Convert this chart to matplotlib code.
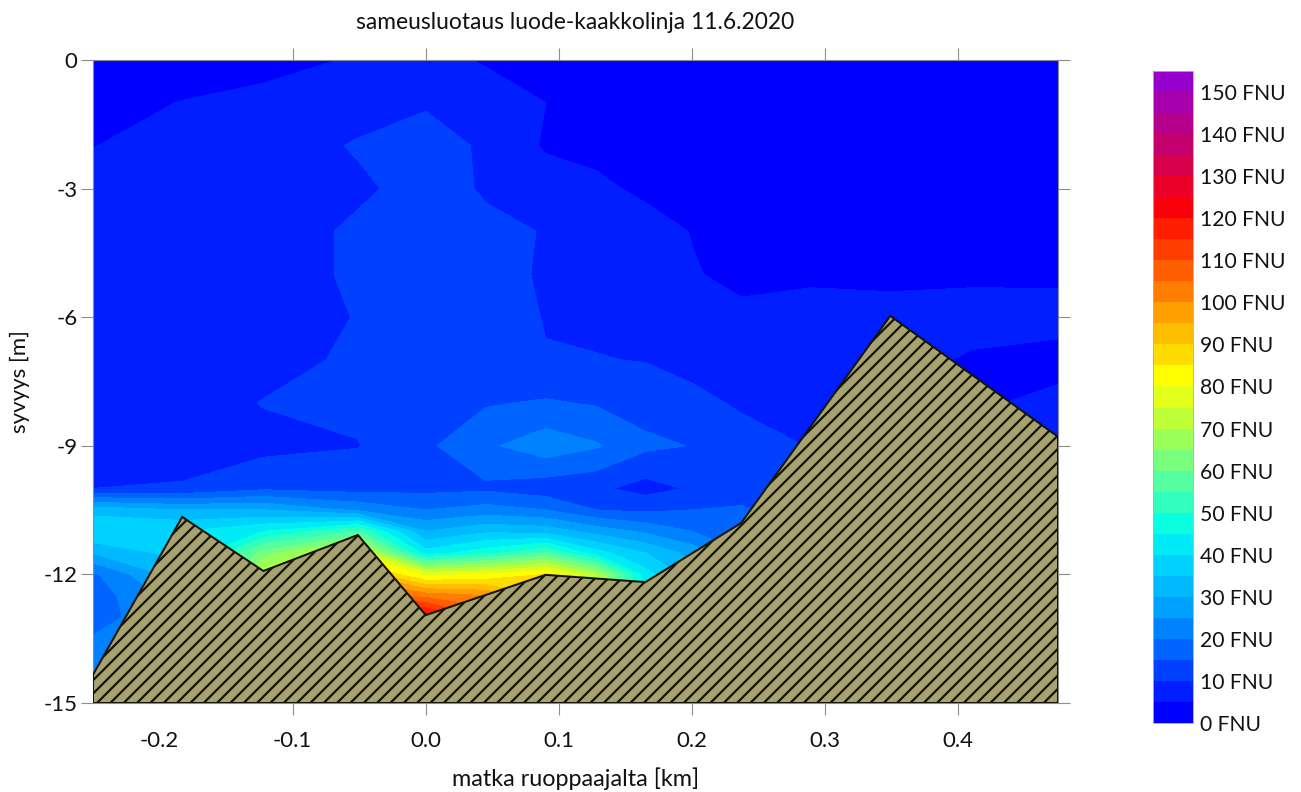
import numpy as np
import matplotlib
matplotlib.use("Agg")
import matplotlib.pyplot as plt

# ---- data -------------------------------------------------------------
# distance of each sounding station from the dredger [km]
station_x = [-0.25, -0.183, -0.122, -0.051, 0.0, 0.045, 0.09, 0.128,
             0.165, 0.2, 0.237, 0.29, 0.349, 0.41, 0.475]

# sounding depths [m]
depths = [0, -1, -2, -3, -4, -5, -6, -7, -8, -9, -10, -10.5, -11, -11.5,
          -12, -12.5, -13, -14, -15]

# turbidity [FNU], one row per depth, one value per station
turb_0 = [2.5, 3, 3.8, 5.3, 6, 4.7, 3.5, 3, 3, 3, 3, 3, 3, 3, 3]
turb_1 = [3.8, 5.1, 6, 7.5, 9.5, 6.5, 5.0, 3.5, 3, 3, 3, 3, 3, 3, 3]
turb_2 = [4.9, 6.5, 7, 10.5, 12, 9.3, 4.4, 4.3, 3.5, 3, 3, 3, 3, 3, 3]
turb_3 = [6, 7, 7, 9, 12, 9.5, 7.5, 5.5, 4.5, 3.5, 3, 3, 3, 3, 3]
turb_4 = [6.5, 7, 7, 11, 12.5, 11, 9.8, 7, 6, 4.9, 3.5, 3.2, 3.3, 3.3, 3.2]
turb_5 = [7, 7, 7, 11, 12.5, 11.5, 9.5, 8, 7.5, 5.2, 4.3, 4.3, 4.3, 4.3, 4]
turb_6 = [7, 7, 7.5, 10.2, 12.5, 12, 9.8, 9, 8.5, 7, 5.6, 6.5, 6, 6.5, 7]
turb_7 = [7, 7.2, 8, 11, 12.5, 12.5, 10.2, 10.2, 9.8, 8.8, 8, 8, 6.5, 4.5, 3]
turb_8 = [7.5, 7.5, 10.2, 11, 13, 14.5, 15.5, 14.5, 13, 11, 9.5, 9, 7, 4, 6.5]
turb_9 = [8.5, 8.5, 8.5, 9.8, 14, 19, 23, 20.5, 16, 14.8, 11.5, 9.8, 8, 5, 7]
turb_10 = [10, 10.3, 14, 13, 13.5, 14, 12, 11, 8, 10.5, 13, 11, 9, 6, 7]
turb_10_5 = [33, 30, 30, 24, 20, 22, 20, 15, 14, 15, 15.5, 12, 9.5, 6, 7]
turb_11 = [40, 40, 45, 55, 30, 34, 33, 28, 24, 20, 18, 14, 10, 6, 7]
turb_11_5 = [30, 37, 62, 78, 42, 48, 55, 42, 35, 28, 20, 15, 10, 6, 7]
turb_12 = [19, 33, 73, 95, 78, 80, 85, 70, 42, 32, 22, 15, 10, 6, 7]
turb_12_5 = [17, 28, 75, 110, 103, 100, 90, 75, 45, 33, 22, 15, 10, 6, 7]
turb_13 = [17, 26, 75, 124, 124, 110, 90, 75, 45, 33, 22, 15, 10, 6, 7]
turb_14 = [24, 25, 75, 124, 124, 110, 90, 75, 45, 33, 22, 15, 10, 6, 7]
turb_15 = [28, 25, 75, 124, 124, 110, 90, 75, 45, 33, 22, 15, 10, 6, 7]

# sea bed profile along the line
bed_x = [-0.25, -0.183, -0.122, -0.051, 0.0, 0.09, 0.165, 0.237, 0.349, 0.475]
bed_depth = [-14.34, -10.66, -11.92, -11.08, -12.95, -12.01, -12.18, -10.8,
             -5.97, -8.79]

# colour classes [FNU]
levels = list(range(0, 160, 5))
cbar_ticks = list(range(0, 160, 10))
x_ticks = [-0.2, -0.1, 0.0, 0.1, 0.2, 0.3, 0.4]
y_ticks = [0, -3, -6, -9, -12, -15]

# ---- style ------------------------------------------------------------
band_rgb = [
    (0, 0, 255), (0, 30, 255), (0, 65, 255), (0, 100, 255), (0, 130, 255),
    (0, 160, 255), (0, 185, 255), (0, 210, 255), (0, 235, 245),
    (10, 255, 225), (50, 255, 190), (85, 255, 160), (120, 255, 125),
    (155, 255, 90), (190, 255, 55), (225, 255, 25), (255, 255, 0),
    (255, 220, 0), (255, 190, 0), (255, 160, 0), (255, 125, 0),
    (255, 95, 0), (255, 60, 0), (255, 30, 0), (250, 0, 10), (235, 0, 40),
    (215, 0, 75), (195, 0, 110), (180, 0, 140), (165, 0, 170),
    (150, 0, 205),
]
band_colors = [tuple(c / 255 for c in rgb) for rgb in band_rgb]

DPI = 80
plt.rcParams["font.family"] = ["Lato", "DejaVu Sans"]
plt.rcParams["hatch.linewidth"] = 2.0

fig = plt.figure(figsize=(1301 / DPI, 792 / DPI), dpi=DPI)
ax = fig.add_axes([93 / 1301, 1 - 703 / 792, (1058 - 93) / 1301, 643 / 792])

Z = np.array([turb_0, turb_1, turb_2, turb_3, turb_4, turb_5, turb_6,
              turb_7, turb_8, turb_9, turb_10, turb_10_5, turb_11,
              turb_11_5, turb_12, turb_12_5, turb_13, turb_14, turb_15])
X, Y = np.meshgrid(station_x, depths)

cf = ax.contourf(X, Y, Z, levels=levels, colors=band_colors)
cf.set_edgecolor("face")
cf.set_linewidth(0.4)

# sea bed
poly_x = bed_x + [bed_x[-1], bed_x[0]]
poly_y = bed_depth + [-15, -15]
ax.fill(poly_x, poly_y, facecolor="#a8a270", edgecolor="#141408",
        hatch="//", linewidth=1.8, zorder=3)

ax.set_xlim(-0.25, 0.475)
ax.set_ylim(-15, 0)

ax.set_xticks(x_ticks)
ax.set_xticklabels([f"{v:.1f}" for v in x_ticks])
ax.set_yticks(y_ticks)
ax.set_yticklabels([str(v) for v in y_ticks])

ax.tick_params(axis="both", which="major", direction="out", length=11,
               width=1, color="#8c8c8c", labelsize=20, pad=3,
               top=True, right=True, labelcolor="#111111")
ax.tick_params(axis="x", pad=14)
for t in ax.xaxis.get_major_ticks()[:1]:
    t.tick1line.set_visible(False)
    t.tick2line.set_visible(False)

for side, sp in ax.spines.items():
    sp.set_color("#8c8c8c")
    sp.set_linewidth(1)

ax.set_title("sameusluotaus luode-kaakkolinja 11.6.2020", fontsize=20.5,
             pad=28, color="#111111")
ax.set_xlabel("matka ruoppaajalta [km]", fontsize=21, labelpad=15,
              color="#111111")
ax.set_ylabel("syvyys [m]", fontsize=20, labelpad=12, color="#111111")

# colour scale
cax = fig.add_axes([1153 / 1301, 1 - 723 / 792, 40 / 1301, 652 / 792])
cb = fig.colorbar(cf, cax=cax, ticks=cbar_ticks)
cb.set_ticklabels([f"{v} FNU" for v in cbar_ticks])
cb.ax.tick_params(length=0, labelsize=19, pad=6, labelcolor="#111111")
cb.outline.set_edgecolor("#b0b0b0")
cb.outline.set_linewidth(0.8)

fig.savefig("out.png", dpi=DPI)
